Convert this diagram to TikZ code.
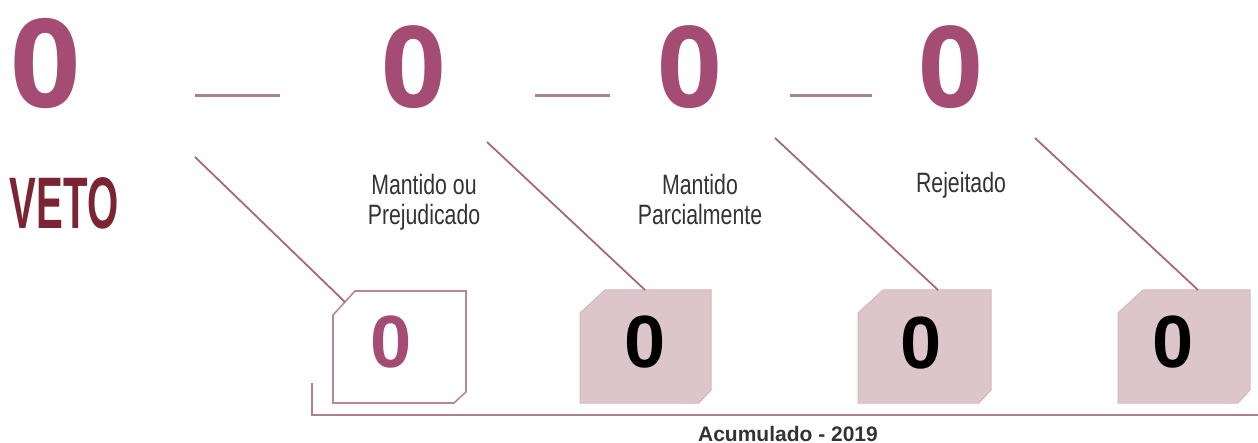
\documentclass[tikz,border=0pt]{standalone}
\usepackage{fontspec}
\setmainfont{Liberation Sans}
\newfontfamily\bigfont{Open Sans}
\newfontfamily\condfont{Liberation Sans}[FakeStretch=0.76]
\newfontfamily\vetofont{Liberation Sans}[FakeStretch=0.55]
\definecolor{vetoplum}{HTML}{A54C74}
\definecolor{vetowine}{HTML}{7B2434}
\definecolor{vetorose}{HTML}{DCC6CB}
\definecolor{vetoline}{HTML}{A56A78}
\definecolor{vetodash}{HTML}{A8838B}
\definecolor{vetogray}{HTML}{333333}
\tikzset{
    bignum/.style={anchor=base, inner sep=0pt, text=vetoplum, font=\bigfont\bfseries\fontsize{113}{113}\selectfont},
    boxnum/.style={anchor=base, inner sep=0pt, font=\bfseries\fontsize{74}{74}\selectfont},
    caption/.style={anchor=base, inner sep=0pt, align=center, text=vetogray, font=\condfont\fontsize{28}{30}\selectfont},
    link/.style={draw=vetoline, line width=1.8pt}
}
\begin{document}
\begin{tikzpicture}[x=1pt, y=-1pt]
    \useasboundingbox (0,0) rectangle (1258,443);

    % totals on top
    \node[bignum, font=\bigfont\bfseries\fontsize{123}{123}\selectfont] (total) at (46,108) {0};
    \foreach \name/\x in {mantido/414, parcial/690, rejeitado/951}
        \node[bignum] (\name) at (\x,108) {0};
    \foreach \x/\y in {195/280, 535/610, 790/872}
        \draw[draw=vetodash, line width=3pt] (\x,96) -- (\y,96);

    \node[anchor=base, inner sep=0pt, text=vetowine, font=\vetofont\bfseries\fontsize{73}{73}\selectfont] (veto) at (64,229) {VETO};

    \node[caption] (capm) at (424,225) {Mantido ou\\Prejudicado};
    \node[caption] (capp) at (700,225) {Mantido\\Parcialmente};
    \node[caption] (capr) at (961,193) {Rejeitado};

    % accumulated boxes
    \draw[draw=vetoline!80, line width=1.6pt, fill=white]
        (333,315) -- (355,291) -- (466,291) -- (466,392) -- (454,403) -- (333,403) -- cycle;
    \foreach \xl/\xr in {580/711, 858/991, 1118/1250}
        \draw[draw=vetorose!85!vetoline, line width=1pt, fill=vetorose]
            (\xl,313) -- (\xl+25,290) -- (\xr,290) -- (\xr,390) -- (\xr-12,403) -- (\xl,403) -- cycle;

    \node[boxnum, text=vetoplum] (acc1) at (391,368) {0};
    \node[boxnum] (acc2) at (645,368) {0};
    \node[boxnum] (acc3) at (921,369) {0};
    \node[boxnum] (acc4) at (1173,367) {0};

    \coordinate (s1) at (195,157);  \coordinate (e1) at (345,302);
    \coordinate (s2) at (487,142);  \coordinate (e2) at (645,290);
    \coordinate (s3) at (775,138);  \coordinate (e3) at (938,290);
    \coordinate (s4) at (1035,138); \coordinate (e4) at (1198,290);
    \foreach \i in {1,...,4}
        \draw[link] (s\i) -- (e\i);

    % bracket
    \coordinate (bt) at (312,383);
    \coordinate (bc) at (312,415);
    \coordinate (be) at (1258,415);
    \draw[draw=vetoline!85, line width=1.6pt] (bt) -- (bc) -- (be);
    \node[anchor=base, inner sep=0pt, text=vetogray, font=\bfseries\fontsize{21}{21}\selectfont] (acum) at (788,441) {Acumulado - 2019};
\end{tikzpicture}
\end{document}
